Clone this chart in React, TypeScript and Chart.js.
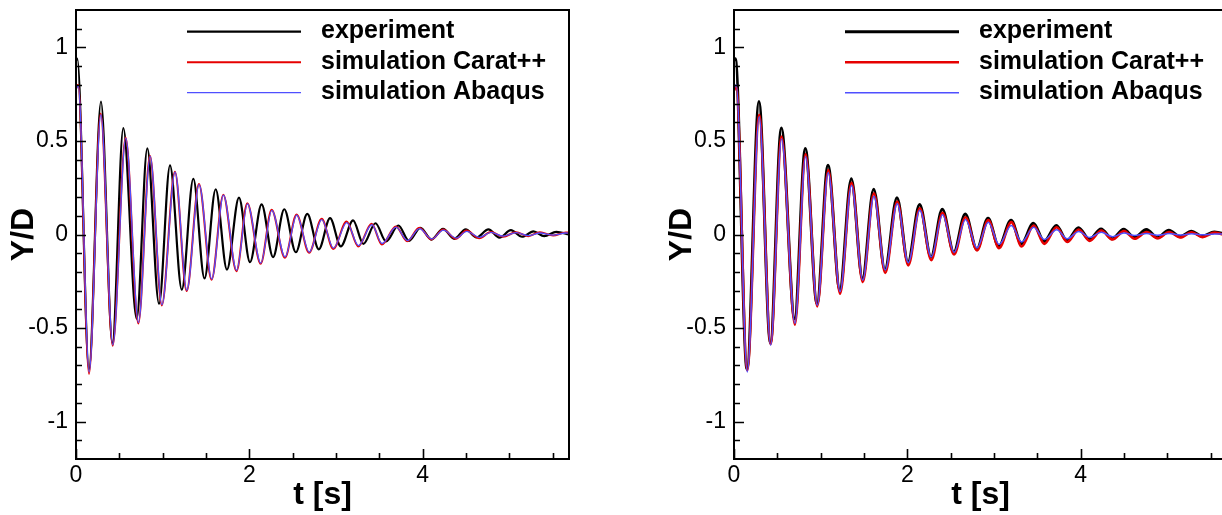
import React, { useEffect, useRef } from 'react';
import { Chart, registerables } from 'chart.js';

Chart.register(...registerables);

const FONT = "'Liberation Sans', Arial, Helvetica, sans-serif";

// ---- experiment (same measurement in both panels) ----
const EXP_T = [0, 0.015, 0.15, 0.288, 0.42, 0.546, 0.7, 0.823, 0.958, 1.085, 1.221, 1.354, 1.483, 1.612, 1.742, 1.881, 2.008, 2.142, 2.274, 2.404, 2.537, 2.669, 2.802, 2.932, 3.056, 3.198, 3.317, 3.456, 3.579, 3.721, 3.843, 3.976, 4.102, 4.236, 4.366, 4.498, 4.621, 4.76, 4.887, 5.019, 5.148, 5.279, 5.404, 5.544, 5.69];
const EXP_Y = [0.93, 0.94, -0.72, 0.711, -0.58, 0.569, -0.45, 0.46, -0.37, 0.37, -0.295, 0.298, -0.235, 0.242, -0.188, 0.197, -0.148, 0.161, -0.121, 0.135, -0.095, 0.11, -0.079, 0.087, -0.064, 0.076, -0.05, 0.06, -0.037, 0.048, -0.034, 0.036, -0.027, 0.03, -0.023, 0.028, -0.016, 0.027, -0.017, 0.023, -0.012, 0.017, -0.009, 0.014, 0.0];

// ---- left panel simulations ----
const LEFT_CARAT_T = [0, 0.025, 0.15, 0.285, 0.423, 0.573, 0.719, 0.854, 0.99, 1.142, 1.277, 1.419, 1.565, 1.7, 1.852, 1.977, 2.131, 2.258, 2.411, 2.546, 2.69, 2.835, 2.969, 3.123, 3.258, 3.412, 3.53, 3.692, 3.823, 3.962, 4.104, 4.238, 4.385, 4.508, 4.654, 4.788, 4.93, 5.077, 5.219, 5.354, 5.507, 5.65, 5.69];
const LEFT_CARAT_Y = [0.78, 0.8, -0.745, 0.647, -0.595, 0.519, -0.476, 0.421, -0.379, 0.336, -0.302, 0.27, -0.242, 0.213, -0.196, 0.167, -0.157, 0.132, -0.124, 0.107, -0.098, 0.084, -0.077, 0.069, -0.064, 0.057, -0.053, 0.043, -0.036, 0.036, -0.027, 0.027, -0.023, 0.021, -0.02, 0.013, -0.012, 0.012, -0.009, 0.012, -0.005, 0.011, 0.01];
const LEFT_ABAQUS_T = [0, 0.026, 0.152, 0.287, 0.425, 0.575, 0.721, 0.856, 0.992, 1.144, 1.279, 1.421, 1.567, 1.702, 1.854, 1.979, 2.133, 2.26, 2.413, 2.548, 2.692, 2.837, 2.971, 3.125, 3.26, 3.414, 3.532, 3.694, 3.825, 3.964, 4.106, 4.24, 4.387, 4.51, 4.656, 4.79, 4.932, 5.079, 5.221, 5.356, 5.509, 5.652, 5.69];
const LEFT_ABAQUS_Y = [0.775, 0.795, -0.735, 0.64, -0.59, 0.515, -0.47, 0.418, -0.375, 0.333, -0.298, 0.267, -0.238, 0.21, -0.192, 0.164, -0.153, 0.129, -0.12, 0.103, -0.094, 0.08, -0.073, 0.064, -0.059, 0.052, -0.048, 0.039, -0.032, 0.031, -0.024, 0.023, -0.019, 0.017, -0.015, 0.011, -0.009, 0.01, -0.006, 0.008, -0.003, 0.008, 0.007];

// ---- right panel simulations ----
const RIGHT_CARAT_T = [0, 0.025, 0.153, 0.291, 0.423, 0.549, 0.703, 0.826, 0.961, 1.088, 1.224, 1.357, 1.486, 1.615, 1.745, 1.884, 2.011, 2.145, 2.277, 2.407, 2.54, 2.672, 2.805, 2.935, 3.059, 3.201, 3.32, 3.459, 3.582, 3.724, 3.846, 3.979, 4.105, 4.239, 4.369, 4.501, 4.624, 4.763, 4.89, 5.022, 5.151, 5.282, 5.407, 5.547, 5.69];
const RIGHT_CARAT_Y = [0.77, 0.79, -0.725, 0.64, -0.585, 0.523, -0.482, 0.43, -0.384, 0.345, -0.316, 0.276, -0.254, 0.22, -0.205, 0.176, -0.165, 0.14, -0.137, 0.116, -0.107, 0.092, -0.085, 0.077, -0.073, 0.066, -0.064, 0.048, -0.05, 0.039, -0.04, 0.027, -0.034, 0.021, -0.027, 0.018, -0.023, 0.013, -0.02, 0.013, -0.016, 0.012, -0.014, 0.01, -0.006];
const RIGHT_ABAQUS_T = [0, 0.025, 0.153, 0.291, 0.423, 0.549, 0.703, 0.826, 0.961, 1.088, 1.224, 1.357, 1.486, 1.615, 1.745, 1.884, 2.011, 2.145, 2.277, 2.407, 2.54, 2.672, 2.805, 2.935, 3.059, 3.201, 3.32, 3.459, 3.582, 3.724, 3.846, 3.979, 4.105, 4.239, 4.369, 4.501, 4.624, 4.763, 4.89, 5.022, 5.151, 5.282, 5.407, 5.547, 5.69];
const RIGHT_ABAQUS_Y = [0.78, 0.8, -0.735, 0.63, -0.592, 0.51, -0.475, 0.415, -0.378, 0.33, -0.305, 0.262, -0.245, 0.205, -0.19, 0.165, -0.15, 0.13, -0.12, 0.105, -0.095, 0.08, -0.072, 0.066, -0.053, 0.048, -0.04, 0.039, -0.027, 0.025, -0.023, 0.016, -0.016, 0.012, -0.012, 0.008, -0.006, 0.006, -0.004, 0.005, -0.003, 0.004, -0.002, 0.003, 0.002];

// ---- labels & axes ----
const SERIES_LABELS = ['experiment', 'simulation Carat++', 'simulation Abaqus'];
const X_TITLE = 't [s]';
const Y_TITLE = 'Y/D';
const X_MIN = 0;
const X_MAX = 5.69;
const Y_MIN = -1.2;
const Y_MAX = 1.2;
const X_MAJOR = [0, 2, 4];
const X_MINOR = [0.5, 1, 1.5, 2.5, 3, 3.5, 4.5, 5, 5.5];
const Y_MAJOR = [-1, -0.5, 0, 0.5, 1];
const Y_MINOR = [-1.1, -0.9, -0.8, -0.7, -0.6, -0.4, -0.3, -0.2, -0.1, 0.1, 0.2, 0.3, 0.4, 0.6, 0.7, 0.8, 0.9, 1.1];

const COLORS = ['#000000', '#e60000', '#4f4fff'];

const toPoints = (ts: number[], ys: number[]) => ts.map((t, i) => ({ x: t, y: ys[i] }));

const framePlugin = {
  id: 'frameTicksLegend',
  afterDatasetsDraw(chart: any) {
    const { ctx, chartArea, scales } = chart;
    const { left, right, top, bottom } = chartArea;
    const x = scales.x;
    const y = scales.y;
    ctx.save();
    ctx.strokeStyle = '#000';
    ctx.lineWidth = 2;
    ctx.strokeRect(left, top, right - left, bottom - top);
    ctx.lineWidth = 1.6;
    ctx.beginPath();
    Y_MAJOR.forEach((v) => {
      const p = Math.round(y.getPixelForValue(v)) + 0.5;
      ctx.moveTo(left, p);
      ctx.lineTo(left + 10, p);
    });
    Y_MINOR.forEach((v) => {
      const p = Math.round(y.getPixelForValue(v)) + 0.5;
      ctx.moveTo(left, p);
      ctx.lineTo(left + 6, p);
    });
    X_MAJOR.forEach((v) => {
      const p = Math.round(x.getPixelForValue(v)) + 0.5;
      ctx.moveTo(p, bottom);
      ctx.lineTo(p, bottom - 10);
    });
    X_MINOR.forEach((v) => {
      const p = Math.round(x.getPixelForValue(v)) + 0.5;
      ctx.moveTo(p, bottom);
      ctx.lineTo(p, bottom - 6);
    });
    ctx.stroke();

    // legend
    const ds = chart.data.datasets;
    ctx.font = `bold 25px ${FONT}`;
    ctx.textAlign = 'left';
    ctx.textBaseline = 'alphabetic';
    ctx.fillStyle = '#000';
    SERIES_LABELS.forEach((label, i) => {
      const d = ds.find((s: any) => s.label === label);
      const ly = top + 21.7 + i * 30.5;
      ctx.beginPath();
      ctx.strokeStyle = d.borderColor;
      ctx.lineWidth = d.borderWidth;
      ctx.moveTo(left + 111, ly);
      ctx.lineTo(left + 225, ly);
      ctx.stroke();
      ctx.fillText(label, left + 245, ly + 6.5);
    });
    ctx.restore();
  },
};

const zeroPadding = (s: any) => {
  s.paddingTop = 0;
  s.paddingBottom = 0;
  s.paddingLeft = 0;
  s.paddingRight = 0;
};

function makeConfig(exp: any[], carat: any[], abaqus: any[], widths: number[]) {
  return {
    type: 'line',
    data: {
      datasets: [
        { label: SERIES_LABELS[0], data: exp, borderColor: COLORS[0], borderWidth: widths[0], order: 2 },
        { label: SERIES_LABELS[1], data: carat, borderColor: COLORS[1], borderWidth: widths[1], order: 1 },
        { label: SERIES_LABELS[2], data: abaqus, borderColor: COLORS[2], borderWidth: widths[2], order: 0 },
      ],
    },
    options: {
      responsive: false,
      animation: false,
      devicePixelRatio: 1,
      layout: { padding: { left: 0, right: 31, top: 10, bottom: 0 } },
      plugins: { legend: { display: false }, tooltip: { enabled: false } },
      elements: {
        point: { radius: 0 },
        line: { cubicInterpolationMode: 'monotone', fill: false },
      },
      scales: {
        x: {
          type: 'linear',
          min: X_MIN,
          max: X_MAX,
          afterBuildTicks: (s: any) => { s.ticks = X_MAJOR.map((v) => ({ value: v })); },
          afterFit: (s: any) => { s.height = 56; zeroPadding(s); },
          grid: { display: false, drawTicks: false },
          border: { display: false },
          ticks: {
            color: '#000', autoSkip: false, maxRotation: 0, padding: 3,
            font: { size: 23, family: FONT },
            callback: (v: any) => String(v),
          },
          title: {
            display: true, text: X_TITLE, color: '#000',
            font: { size: 32, weight: 'bold', family: FONT },
            padding: { top: 0, bottom: 1 },
          },
        },
        y: {
          type: 'linear',
          min: Y_MIN,
          max: Y_MAX,
          afterBuildTicks: (s: any) => { s.ticks = Y_MAJOR.map((v) => ({ value: v })); },
          afterFit: (s: any) => { s.width = 76; zeroPadding(s); },
          grid: { display: false, drawTicks: false },
          border: { display: false },
          ticks: {
            color: '#000', autoSkip: false, padding: 8,
            font: { size: 23, family: FONT },
            callback: (v: any) => String(v),
          },
          title: {
            display: true, text: Y_TITLE, color: '#000',
            font: { size: 32, weight: 'bold', family: FONT },
            padding: { top: 5, bottom: 0 },
          },
        },
      },
    },
    plugins: [framePlugin],
  };
}

export default function App() {
  const leftRef = useRef<HTMLCanvasElement>(null);
  const rightRef = useRef<HTMLCanvasElement>(null);

  useEffect(() => {
    document.body.style.margin = '0';
    const exp = toPoints(EXP_T, EXP_Y);
    const left = new Chart(leftRef.current as any, makeConfig(
      exp, toPoints(LEFT_CARAT_T, LEFT_CARAT_Y), toPoints(LEFT_ABAQUS_T, LEFT_ABAQUS_Y), [2.2, 2, 1.3]) as any);
    const right = new Chart(rightRef.current as any, makeConfig(
      exp, toPoints(RIGHT_CARAT_T, RIGHT_CARAT_Y), toPoints(RIGHT_ABAQUS_T, RIGHT_ABAQUS_Y), [3, 2.6, 1.5]) as any);
    return () => { left.destroy(); right.destroy(); };
  }, []);

  return (
    <div style={{ position: 'fixed', left: 0, top: 0, width: 1222, height: 515, overflow: 'hidden', background: '#fff' }}>
      <canvas ref={leftRef} width={600} height={515} style={{ position: 'absolute', left: 0, top: 0 }} />
      <canvas ref={rightRef} width={600} height={515} style={{ position: 'absolute', left: 658, top: 0 }} />
    </div>
  );
}
